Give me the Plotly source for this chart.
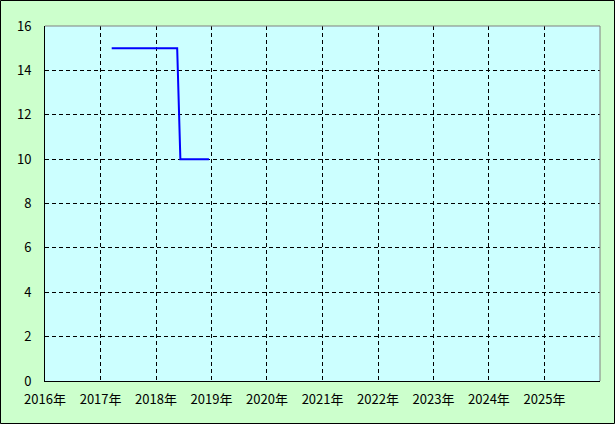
import plotly.graph_objects as go

# Data (monthly)
dates = ["2017-03-15", "2017-04-15", "2017-05-15", "2017-06-15", "2017-07-15",
         "2017-08-15", "2017-09-15", "2017-10-15", "2017-11-15", "2017-12-15",
         "2018-01-15", "2018-02-15", "2018-03-15", "2018-04-15", "2018-05-20",
         "2018-06-10", "2018-07-15", "2018-08-15", "2018-09-15", "2018-10-15",
         "2018-11-15", "2018-12-15"]
values = [15, 15, 15, 15, 15, 15, 15, 15, 15, 15, 15, 15, 15, 15, 15,
          10, 10, 10, 10, 10, 10, 10]

years = [2016, 2017, 2018, 2019, 2020, 2021, 2022, 2023, 2024, 2025]
tick_vals = [f"{y}-01-01" for y in years]
tick_text = [f"{y}年" for y in years]
y_ticks = [0, 2, 4, 6, 8, 10, 12, 14, 16]

fig = go.Figure()
fig.add_trace(go.Scatter(x=dates, y=values, mode="lines",
                         line=dict(color="#0000ff", width=2), showlegend=False,
                         hoverinfo="skip"))

W, H = 615, 424
L, R, T, B = 45, 15, 26, 43
pw, ph = W - L - R, H - T - B

font = dict(family="Noto Sans CJK JP, DejaVu Sans, sans-serif", size=13, color="#000000")
dash = "4px,3px"

fig.update_layout(
    width=W, height=H,
    margin=dict(l=L, r=R, t=T, b=B, pad=0),
    paper_bgcolor="#ccffcc",
    plot_bgcolor="#ccffff",
    font=font,
    xaxis=dict(type="date", range=["2016-01-01", "2026-01-01"],
               tickvals=tick_vals, ticktext=tick_text,
               showgrid=True, gridcolor="#000000", griddash=dash, gridwidth=1,
               showline=True, linecolor="#000000", linewidth=1,
               ticks="", zeroline=False, ticklabelstandoff=6,
               tickfont=font),
    yaxis=dict(range=[0, 16], tickvals=y_ticks,
               showgrid=True, gridcolor="#000000", griddash=dash, gridwidth=1,
               showline=True, linecolor="#000000", linewidth=1,
               ticks="", zeroline=False, ticklabelstandoff=10,
               tickfont=font),
    shapes=[
        dict(type="line", xref="paper", yref="paper", x0=0, x1=1, y0=1, y1=1,
             line=dict(color="#808080", width=1)),
        dict(type="line", xref="paper", yref="paper", x0=1, x1=1, y0=0, y1=1,
             line=dict(color="#808080", width=1)),
        dict(type="rect", xref="paper", yref="paper",
             x0=(-L + 0.5) / pw, x1=(W - L - 0.5) / pw,
             y0=(-B + 0.5) / ph, y1=(H - B - 0.5) / ph,
             line=dict(color="#000000", width=1), layer="above"),
    ],
)

fig.write_html("out.html", config={"displayModeBar": False},
               post_script="document.body.style.margin='0';document.body.style.padding='0';")
